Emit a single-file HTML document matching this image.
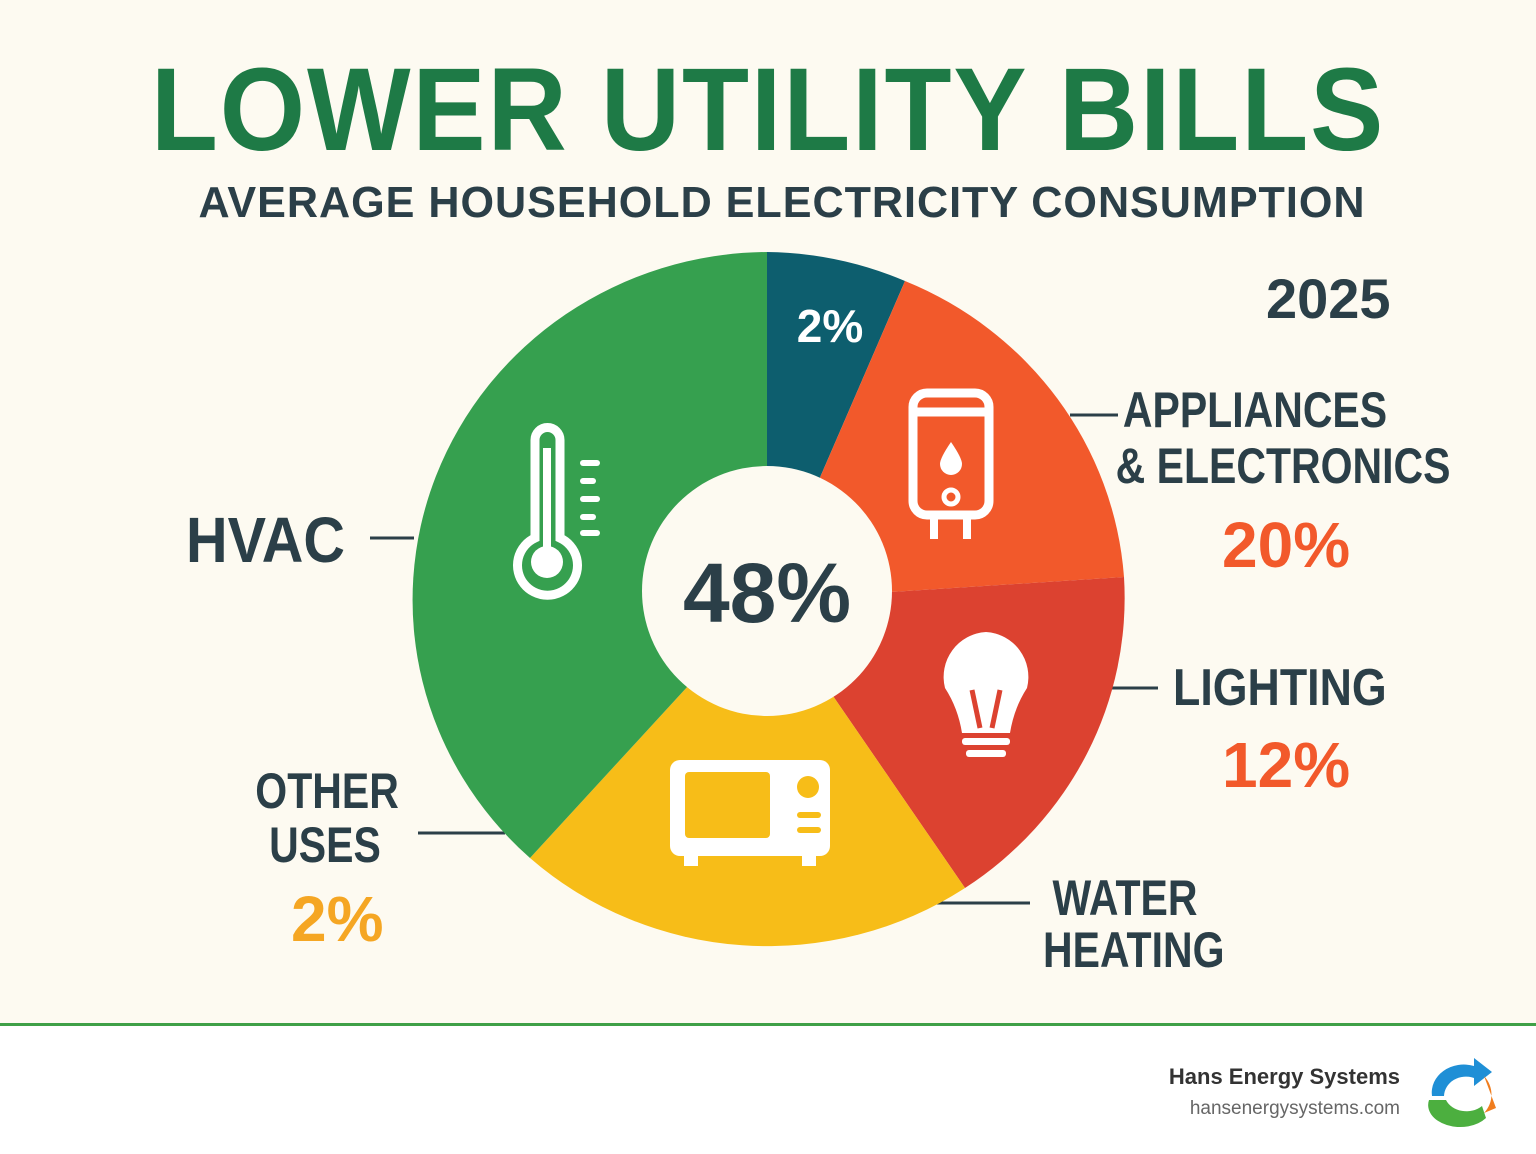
<!DOCTYPE html>
<html><head><meta charset="utf-8"><style>
html,body{margin:0;padding:0;}
body{width:1536px;height:1154px;background:#fdfaf1;position:relative;overflow:hidden;font-family:"Liberation Sans",sans-serif;}
.t{position:absolute;white-space:nowrap;}
</style></head><body>
<div class="t" style="left:0;width:1536px;text-align:center;top:42px;font-size:118px;font-weight:bold;color:#1e7a46;letter-spacing:2px;transform:scaleX(0.93);">LOWER UTILITY BILLS</div>
<div class="t" style="left:14px;width:1536px;text-align:center;top:178px;font-size:44px;font-weight:bold;color:#2b3f48;letter-spacing:1px;transform:scaleX(0.98);">AVERAGE HOUSEHOLD ELECTRICITY CONSUMPTION</div>
<div class="t" style="left:1266px;top:266px;font-size:56px;font-weight:bold;color:#2b3f48;">2025</div>

<svg width="1536" height="1154" style="position:absolute;left:0;top:0">
<g stroke="#2b3f48" stroke-width="3">
<line x1="370" y1="538" x2="414" y2="538"/>
<line x1="1070" y1="415" x2="1118" y2="415"/>
<line x1="1110" y1="688" x2="1158" y2="688"/>
<line x1="418" y1="833" x2="505" y2="833"/>
<line x1="935" y1="903" x2="1030" y2="903"/>
</g>
<path d="M767,600 L767,252 A357,348 0 0 1 905,281 Z" fill="#0d5e6e"/>
<path d="M767,600 L905,281 A357,348 0 0 1 1124,577 Z" fill="#f2592b"/>
<path d="M767,600 L1124,577 A357,348 0 0 1 965,888 Z" fill="#dc4230"/>
<path d="M767,600 L965,888 A357,348 0 0 1 530,858 Z" fill="#f7bd18"/>
<path d="M767,600 L530,858 A357,348 0 0 1 767,252 Z" fill="#36a04f"/>
<circle cx="767" cy="591" r="125" fill="#fdfaf1"/>
<text x="767" y="622" text-anchor="middle" font-family="Liberation Sans" font-weight="bold" font-size="84" fill="#2b3f48">48%</text>
<text x="830" y="342" text-anchor="middle" font-family="Liberation Sans" font-weight="bold" font-size="46" fill="#fff">2%</text>
<g fill="none" stroke="#fff" stroke-width="10">
<path d="M535,440 L535,538 A30,30 0 1 0 560,538 L560,440 A12,12 0 0 0 535,440 Z" stroke-width="9"/>
</g>
<circle cx="547" cy="562" r="16" fill="#fff"/><rect x="543" y="448" width="8" height="110" fill="#fff"/>
<g fill="#fff"><rect x="580" y="460" width="20" height="6" rx="3"/><rect x="580" y="478" width="16" height="6" rx="3"/><rect x="580" y="496" width="20" height="6" rx="3"/><rect x="580" y="514" width="16" height="6" rx="3"/><rect x="580" y="530" width="20" height="6" rx="3"/></g>
<rect x="913" y="393" width="76" height="122" rx="14" fill="none" stroke="#fff" stroke-width="9"/>
<line x1="913" y1="412" x2="989" y2="412" stroke="#fff" stroke-width="9"/>
<path d="M951,442 Q940,458 940,464 A11,11 0 0 0 962,464 Q962,458 951,442Z" fill="#fff"/>
<circle cx="951" cy="497" r="7" fill="none" stroke="#fff" stroke-width="5"/>
<rect x="930" y="515" width="8" height="24" fill="#fff"/><rect x="963" y="515" width="8" height="24" fill="#fff"/>
<path d="M986,632 A45,45 0 0 0 945,688 Q958,708 962,733 L1010,733 Q1014,708 1027,688 A45,45 0 0 0 986,632Z" fill="#fff"/>
<path d="M972,690 L980,728 M1000,690 L992,728" stroke="#dc4230" stroke-width="5"/>
<rect x="962" y="738" width="48" height="7" rx="3" fill="#fff"/><rect x="966" y="750" width="40" height="7" rx="3" fill="#fff"/>
<rect x="670" y="760" width="160" height="96" rx="10" fill="#fff"/>
<rect x="685" y="772" width="85" height="66" rx="4" fill="#f7bd18"/>
<circle cx="808" cy="787" r="11" fill="#f7bd18"/>
<rect x="797" y="812" width="24" height="6" rx="3" fill="#f7bd18"/><rect x="797" y="827" width="24" height="6" rx="3" fill="#f7bd18"/>
<rect x="684" y="856" width="14" height="10" fill="#fff"/><rect x="802" y="856" width="14" height="10" fill="#fff"/>
</svg>

<div class="t" style="left:186px;top:503px;font-size:64px;font-weight:bold;color:#2b3f48;transform:scaleX(0.9);transform-origin:left;">HVAC</div>
<div class="t" style="left:1085px;top:382px;width:340px;text-align:center;font-size:50px;font-weight:bold;color:#2b3f48;line-height:56px;transform:scaleX(0.82);">APPLIANCES<br>&amp; ELECTRONICS</div>
<div class="t" style="left:1222px;top:508px;font-size:64px;font-weight:bold;color:#f2592b;">20%</div>
<div class="t" style="left:1173px;top:658px;font-size:52px;font-weight:bold;color:#2b3f48;transform:scaleX(0.86);transform-origin:left;">LIGHTING</div>
<div class="t" style="left:1222px;top:728px;font-size:64px;font-weight:bold;color:#f2592b;">12%</div>
<div class="t" style="left:240px;top:764px;width:170px;text-align:center;font-size:50px;font-weight:bold;color:#2b3f48;line-height:54px;transform:scaleX(0.82);">OTHER<br>USES</div>
<div class="t" style="left:1025px;top:872px;width:200px;text-align:center;font-size:50px;font-weight:bold;color:#2b3f48;line-height:52px;transform:scaleX(0.82);">WATER<br>HEATING</div>
<div class="t" style="left:291px;top:882px;font-size:64px;font-weight:bold;color:#f5a623;">2%</div>

<div style="position:absolute;left:0;top:1023px;width:1536px;height:3px;background:#3fa047;"></div>
<div style="position:absolute;left:0;top:1026px;width:1536px;height:128px;background:#fff;"></div>
<div class="t" style="right:136px;top:1064px;font-size:22px;font-weight:bold;color:#333;">Hans Energy Systems</div>
<div class="t" style="right:136px;top:1098px;font-size:19px;color:#666;">hansenergysystems.com</div>
<svg width="80" height="70" style="position:absolute;left:1424px;top:1058px">
<path d="M8,38 A32,28 0 0 1 50,8 L50,0 L68,14 L50,28 L50,20 A22,20 0 0 0 20,38Z" fill="#1f8fd6"/>
<path d="M60,18 A30,28 0 0 1 60,55 L72,50 Z" fill="#f07d1e"/>
<path d="M5,42 L22,42 A22,18 0 0 0 58,48 L62,60 A32,22 0 0 1 5,42Z" fill="#4caf3f"/>
</svg>
</body></html>
